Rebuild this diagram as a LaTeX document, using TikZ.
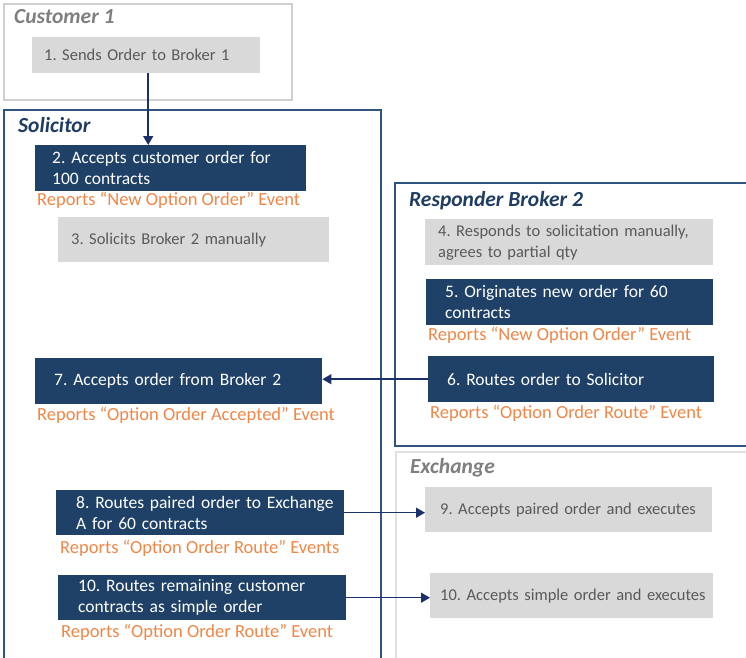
\documentclass[tikz,border=0pt]{standalone}
\usepackage{fontspec}
\setmainfont{Carlito}
\usetikzlibrary{arrows.meta}
\frenchspacing
\hyphenpenalty=10000
\exhyphenpenalty=10000
\definecolor{navy}{RGB}{31,65,104}
\definecolor{navyline}{RGB}{47,84,128}
\definecolor{navytitle}{RGB}{31,61,99}
\definecolor{arrowc}{RGB}{28,48,105}
\definecolor{orangec}{RGB}{238,135,72}
\definecolor{grayfill}{RGB}{217,217,217}
\definecolor{graytext}{RGB}{89,89,89}
\definecolor{graytitle}{RGB}{127,127,127}
\definecolor{custline}{RGB}{208,208,208}
\definecolor{exline}{RGB}{225,225,225}
\tikzset{
  bx/.style={anchor=north west, inner ysep=0pt, align=left},
  dbox/.style={bx, fill=navy, text=white, font=\fontsize{17.5}{21}\selectfont},
  gbox/.style={bx, fill=grayfill, text=graytext, font=\fontsize{16.5}{21}\selectfont},
  rep/.style={anchor=west, inner sep=0pt, text=orangec, font=\fontsize{18.5}{22}\selectfont},
  ttl/.style={anchor=west, inner sep=0pt, font=\fontsize{21.5}{24}\selectfont\bfseries\itshape},
  frame/.style={line width=2pt},
  arr/.style={draw=arrowc, line width=1.5pt, -{Triangle[length=9pt,width=10pt]}}
}
\begin{document}
\begin{tikzpicture}[x=1pt,y=-1pt]
\useasboundingbox (0,0) rectangle (746,657);
\clip (0,0) rectangle (746,657);
\fill[white] (0,0) rectangle (746,657);
% frames
\draw[frame, draw=custline] (4,4) rectangle (292,100);
\draw[frame, draw=navyline] (4,110) rectangle (381,680);
\draw[frame, draw=navyline] (395,183) rectangle (770,446);
\draw[frame, draw=exline] (396,452) rectangle (770,680);
% titles
\node[ttl, text=graytitle] (t1) at (14,17) {Customer 1};
\node[ttl, text=navytitle] (t2) at (18,125) {Solicitor};
\node[ttl, text=navytitle] (t3) at (409,201) {Responder Broker 2};
\node[ttl, text=graytitle] (t4) at (410,468) {Exchange};
% boxes
\node[gbox, inner xsep=12pt, minimum height=36pt, text width=204pt] (b1) at (32,37) {\mbox{1. Sends Order to Broker 1}};
\node[dbox, inner xsep=17pt, minimum height=46pt, text width=237pt] (b2) at (35,145) {\mbox{2. Accepts customer order for}\\\mbox{100 contracts}};
\node[gbox, inner xsep=13pt, minimum height=45pt, text width=245pt] (b3) at (58,217) {\mbox{3. Solicits Broker 2 manually}};
\node[gbox, inner xsep=13pt, minimum height=46pt, text width=262pt] (b4) at (425,219) {\mbox{4. Responds to solicitation manually,}\\\mbox{agrees to partial qty}};
\node[dbox, inner xsep=19pt, minimum height=46pt, text width=249pt] (b5) at (426,279) {\mbox{5. Originates new order for 60}\\\mbox{contracts}};
\node[dbox, inner xsep=19pt, minimum height=46pt, text width=248pt] (b6) at (428,356) {\mbox{6. Routes order to Solicitor}};
\node[dbox, inner xsep=19pt, minimum height=46pt, text width=249pt] (b7) at (35,358) {\mbox{7. Accepts order from Broker 2}};
\node[dbox, inner xsep=20pt, minimum height=45pt, text width=248pt] (b8) at (56,490) {\mbox{8. Routes paired order to Exchange}\\\mbox{A for 60 contracts}};
\node[gbox, inner xsep=15pt, minimum height=45pt, text width=257pt] (b9) at (425,487) {\mbox{9. Accepts paired order and executes}};
\node[dbox, inner xsep=20pt, minimum height=45pt, text width=248pt] (b10) at (58,575) {\mbox{10. Routes remaining customer}\\\mbox{contracts as simple order}};
\node[gbox, inner xsep=10pt, minimum height=45pt, text width=263pt] (b11) at (430,573) {\mbox{10. Accepts simple order and executes}};
% report labels
\node[rep] (r2) at (37,200) {Reports “New Option Order” Event};
\node[rep] (r5) at (428,335) {Reports “New Option Order” Event};
\node[rep] (r6) at (430,413) {Reports “Option Order Route” Event};
\node[rep] (r7) at (37,415) {Reports “Option Order Accepted” Event};
\node[rep] (r8) at (60,548) {Reports “Option Order Route” Events};
\node[rep] (r10) at (61,632) {Reports “Option Order Route” Event};
% connectors
\draw[arr] ([xshift=2pt]b1.south) -- ([xshift=2pt]b1.south |- b2.north);
\draw[arr] (b6.west) -- (b6.west -| b7.east);
\draw[arr] (b8.east) -- (b8.east -| b9.west);
\draw[arr] (b10.east) -- (b10.east -| b11.west);
\end{tikzpicture}
\end{document}
